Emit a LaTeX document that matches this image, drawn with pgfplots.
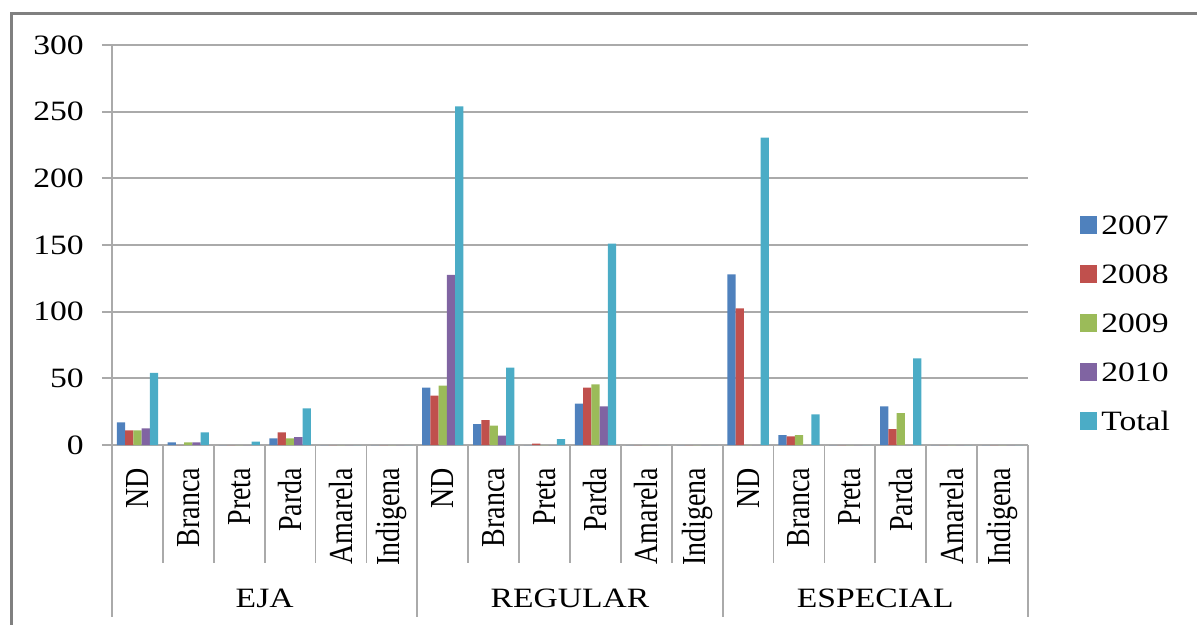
\documentclass[border=0pt]{standalone}
\usepackage{fontspec}
\setmainfont{Liberation Serif}[FakeStretch=1.2]
\newfontfamily\rotfont{Liberation Serif}
\usepackage{pgfplots}
\pgfplotsset{compat=1.18}
\usepackage{pgfplotstable}
\definecolor{cA}{RGB}{79,129,189}
\definecolor{cB}{RGB}{192,80,77}
\definecolor{cC}{RGB}{155,187,89}
\definecolor{cD}{RGB}{128,100,162}
\definecolor{cE}{RGB}{75,172,198}
\definecolor{axgray}{RGB}{170,170,170}
\definecolor{framegray}{RGB}{128,128,128}
\newcommand\lbl{\fontsize{21}{25}\selectfont}
\pgfplotstableread{
x   a      b      c     d      t
0   17     11     11    12.5   54
1   2      0      2     2      9.5
2   0      0      0     0      2.5
3   5      9.5    5     6      27.5
4   0      0      0     0      0
5   0      0      0     0      0
6   43     37     44.5  127.5  254
7   15.75  18.75  14.5  7      58
8   0      1      0     0      4.5
9   31     43     45.5  29     151
10  0      0      0     0      0
11  0      0      0     0      0
12  128    102.5  0     0      230.5
13  7.5    6.5    7.5   0      23
14  0      0      0     0      0
15  29     12     24    0      65
16  0      0      0     0      0
17  0      0      0     0      0
}\datatable
\begin{document}
\begin{tikzpicture}
\useasboundingbox (-84pt,-135pt) rectangle (813.75pt,333.75pt);
\draw[framegray, line width=2.4pt] (-75.5pt,-200pt) -- (-75.5pt,323.5pt) -- (900pt,323.5pt);
\begin{axis}[
  at={(0,0)}, anchor=south west,
  scale only axis, width=687pt, height=300pt,
  xmin=-0.5, xmax=17.5, ymin=0, ymax=300,
  clip=false,
  ybar=0pt, bar width=6.2pt,
  axis lines*=left,
  axis line style={axgray, line width=1.3pt},
  ymajorgrids, major grid style={axgray, line width=1.3pt},
  ytick={0,50,...,300},
  tick align=outside, major tick length=7.5pt,
  ytick style={axgray, line width=1.3pt},
  xtick style={draw=none},
  xtick={0,...,17},
  xticklabels={ND,Branca,Preta,Parda,Amarela,Indigena,ND,Branca,Preta,Parda,Amarela,Indigena,ND,Branca,Preta,Parda,Amarela,Indigena},
  xticklabel style={font=\rotfont\lbl, anchor=east, inner sep=0pt, yshift=-9.5pt, xscale=1.2, rotate=90},
  yticklabel style={font=\lbl, anchor=east, inner sep=0pt, xshift=-13.5pt},
  /pgf/number format/assume math mode=true,
  legend style={at={(1.0568,0.305)}, anchor=west, draw=none, fill=none, inner sep=0pt,
    font=\lbl, row sep=22.75pt, column sep=3pt,
    nodes={inner sep=0pt, text height=14pt, text depth=0pt}, cells={anchor=west}},
  legend cell align=left,
  mybar/.style={draw=none, fill=#1, legend image code/.code={\fill[#1] (0pt,-6.4pt) rectangle (12.8pt,6.4pt);}},
]
\addplot[mybar=cA] table[x=x, y=a] {\datatable};
\addplot[mybar=cB] table[x=x, y=b] {\datatable};
\addplot[mybar=cC] table[x=x, y=c] {\datatable};
\addplot[mybar=cD] table[x=x, y=d] {\datatable};
\addplot[mybar=cE] table[x=x, y=t] {\datatable};
\legend{2007,2008,2009,2010,Total}
\pgfplotsinvokeforeach{0.5,1.5,2.5,3.5,4.5,6.5,7.5,8.5,9.5,10.5,12.5,13.5,14.5,15.5,16.5}{
  \draw[axgray, line width=1.3pt] (axis cs:#1,0) -- ++(0pt,-88.5pt);
}
\pgfplotsinvokeforeach{-0.5,5.5,11.5,17.5}{
  \draw[axgray, line width=1.3pt] (axis cs:#1,0) -- ++(0pt,-129pt);
}
\node[font=\lbl, inner sep=0pt] at (axis cs:2.5,0) [yshift=-114.75pt] {EJA};
\node[font=\lbl, inner sep=0pt] at (axis cs:8.5,0) [yshift=-114.75pt] {REGULAR};
\node[font=\lbl, inner sep=0pt] at (axis cs:14.5,0) [yshift=-114.75pt] {ESPECIAL};
\end{axis}
\end{tikzpicture}
\end{document}
